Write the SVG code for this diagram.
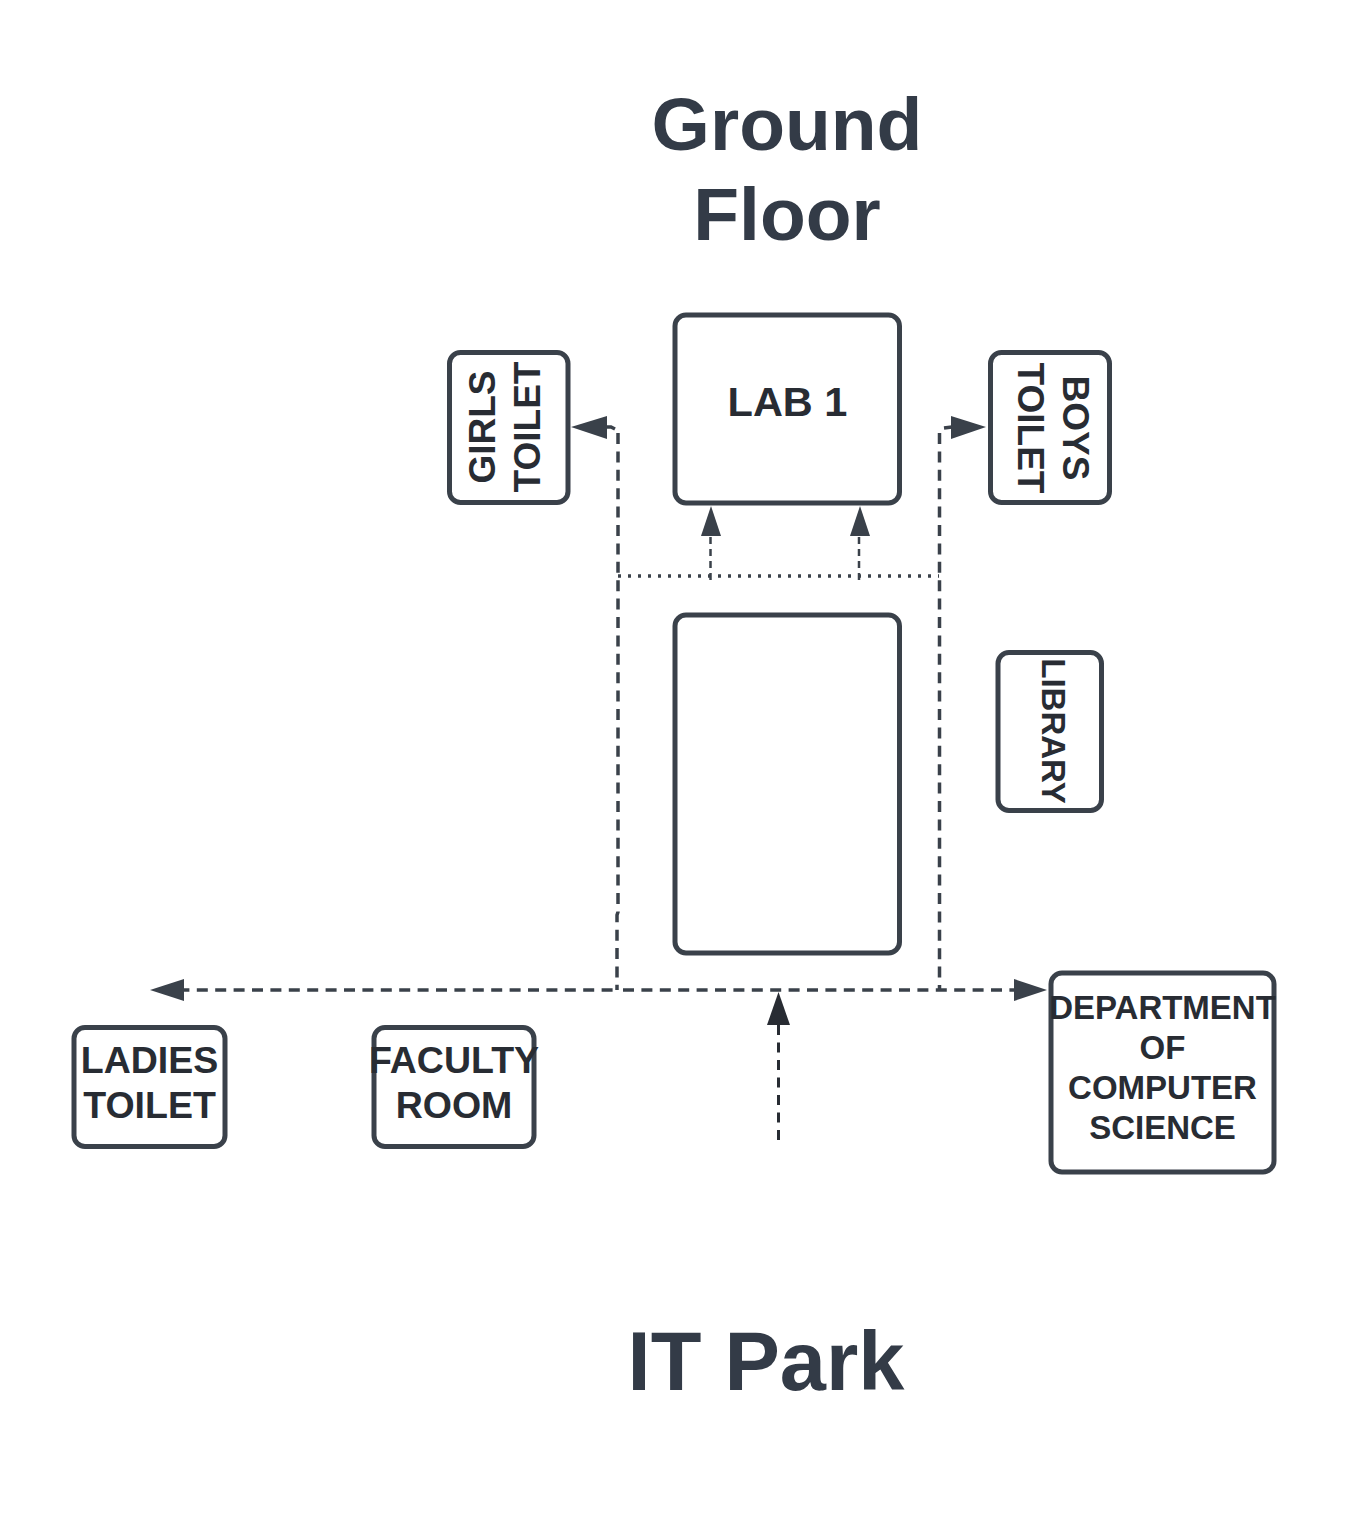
<svg xmlns="http://www.w3.org/2000/svg" width="1350" height="1534" viewBox="0 0 1350 1534">
<style>
.n{fill:#fff;stroke:#3a414a;stroke-width:5}
text{font-family:"Liberation Sans",Arial,sans-serif;font-weight:700;fill:#282c33;text-anchor:middle}
.t{font-size:37.500px}.v{font-size:37px}.s{font-size:33px}
.h{font-size:75px;fill:#333b47}
.c{fill:none;stroke:#3a414a}
.d{stroke-width:3.500;stroke-dasharray:11 7.400}
.a{fill:#3a414a}
</style>
<rect width="1350" height="1534" fill="#fff"/>
<g id="title"><text class="h" x="787" y="150">Ground</text><text class="h" x="787" y="240">Floor</text></g>
<g id="itpark"><text x="766" y="1390" font-size="83" style="fill:#333b47">IT Park</text></g>
<g id="connectors">
<path class="c d" d="M178.400 990H617"/>
<path class="c d" d="M623 990H1015"/>
<path class="c d" d="M618 433V912L617 915V990"/>
<path class="c d" d="M939.500 433V990"/>
<path class="c" stroke-width="3.500" stroke-dasharray="3 7" d="M618 576H939"/>
<path class="c" stroke-width="2.500" stroke-dasharray="7 5" d="M710.500 580V535M859 580V535"/>
<path class="c" stroke-width="3" stroke-dasharray="10 7.500" d="M778.500 1140V1024" style="stroke:#282c33"/>
<path class="c" stroke-width="3.500" d="M606 427H611L615 429M944 428L952 427"/>
<polygon class="a" points="571,427 607,416 607,439"/>
<polygon class="a" points="986,427 951,416 951,439"/>
<polygon class="a" points="711,506 701,536 721,536"/>
<polygon class="a" points="860,506 850,536 870,536"/>
<polygon class="a" points="150,990 184,979 184,1001"/>
<polygon class="a" points="1047,990 1014,979 1014,1001"/>
<polygon points="778.500,992 767,1025 790,1025" style="fill:#282c33"/>
</g>
<g id="lab1"><rect class="n" x="675" y="315" width="224.500" height="188" rx="11"/><text x="787.500" y="415.500" font-size="41.500">LAB 1</text></g>
<g id="girls-toilet"><rect class="n" x="449.500" y="352.500" width="118.500" height="150" rx="11"/><text class="v" transform="translate(495 427) rotate(-90)">GIRLS</text><text class="v" transform="translate(540 427) rotate(-90)">TOILET</text></g>
<g id="boys-toilet"><rect class="n" x="990.500" y="352.500" width="119" height="150" rx="11"/><text class="v" transform="translate(1063 428) rotate(90)">BOYS</text><text class="v" transform="translate(1018 428) rotate(90)">TOILET</text></g>
<g id="big-room"><rect class="n" x="675" y="615" width="224.500" height="338" rx="11"/></g>
<g id="library"><rect class="n" x="998" y="652.500" width="103.500" height="158" rx="11"/><text class="s" transform="translate(1042 731) rotate(90)">LIBRARY</text></g>
<g id="ladies-toilet"><rect class="n" x="74" y="1027.500" width="151" height="119" rx="11"/><text class="t" x="149.500" y="1073">LADIES</text><text class="t" x="149.500" y="1118">TOILET</text></g>
<g id="faculty-room"><rect class="n" x="374" y="1027.500" width="160" height="119" rx="11"/><text class="t" x="454" y="1073">FACULTY</text><text class="t" x="454" y="1118">ROOM</text></g>
<g id="department"><rect class="n" x="1051" y="973" width="223" height="199" rx="11"/><text class="s" x="1162.500" y="1019">DEPARTMENT</text><text class="s" x="1162.500" y="1059">OF</text><text class="s" x="1162.500" y="1099">COMPUTER</text><text class="s" x="1162.500" y="1139">SCIENCE</text></g>
</svg>
